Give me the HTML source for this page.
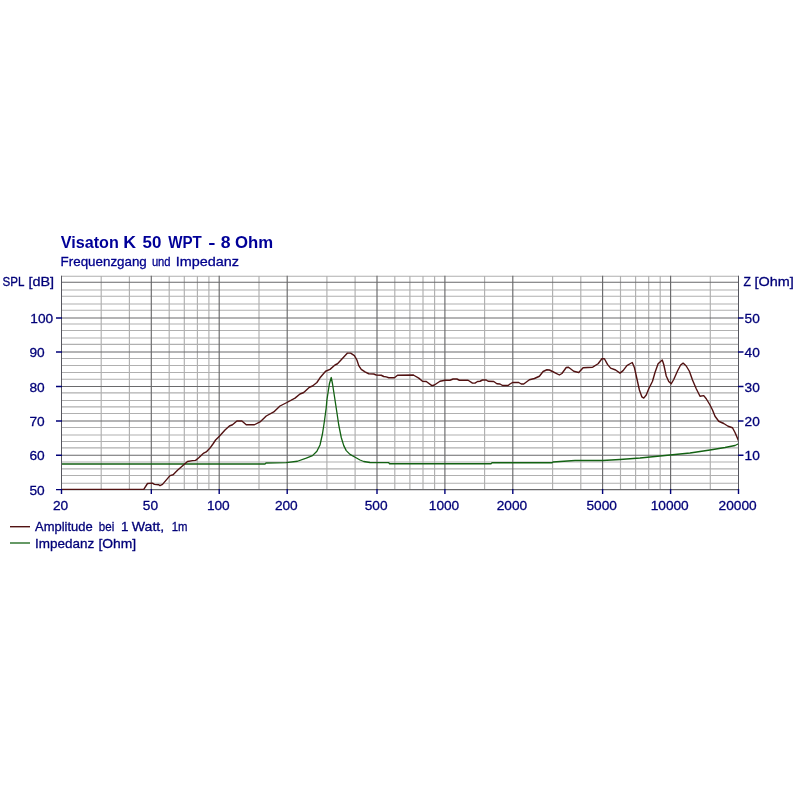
<!DOCTYPE html>
<html><head><meta charset="utf-8"><title>Visaton K 50 WPT - 8 Ohm</title>
<style>html,body{margin:0;padding:0;background:#fff}svg{display:block}text{font-family:"Liberation Sans",Arial,sans-serif}</style></head><body>
<svg width="800" height="800" viewBox="0 0 800 800">
<rect width="800" height="800" fill="#ffffff"/>
<path d="M61.5 276.2H738.5M61.5 290.0H738.5M61.5 296.2H738.5M61.5 304.0H738.5M61.5 310.2H738.5M61.5 324.0H738.5M61.5 330.5H738.5M61.5 338.0H738.5M61.5 344.4H738.5M61.5 358.5H738.5M61.5 365.5H738.5M61.5 372.5H738.5M61.5 379.2H738.5M61.5 392.8H738.5M61.5 400.5H738.5M61.5 406.8H738.5M61.5 413.5H738.5M61.5 427.5H738.5M61.5 435.0H738.5M61.5 441.5H738.5M61.5 447.8H738.5M61.5 462.0H738.5M61.5 468.8H738.5M61.5 475.5H738.5M61.5 483.2H738.5M101.2 275.7V489.6M129.4 275.7V489.6M169.2 275.7V489.6M184.3 275.7V489.6M197.4 275.7V489.6M208.9 275.7V489.6M259.0 275.7V489.6M326.9 275.7V489.6M355.1 275.7V489.6M394.8 275.7V489.6M409.9 275.7V489.6M423.0 275.7V489.6M434.6 275.7V489.6M484.6 275.7V489.6M552.6 275.7V489.6M580.8 275.7V489.6M620.5 275.7V489.6M635.6 275.7V489.6M648.7 275.7V489.6M660.2 275.7V489.6M710.3 275.7V489.6" stroke="#b0b0b0" stroke-width="1.15" fill="none"/>
<path d="M61.5 282.2H738.5M61.5 318.0H738.5M61.5 352.0H738.5M61.5 386.5H738.5M61.5 421.0H738.5M61.5 455.2H738.5M61.5 489.6H738.5M151.3 275.7V489.6M219.2 275.7V489.6M287.2 275.7V489.6M377.0 275.7V489.6M444.9 275.7V489.6M512.8 275.7V489.6M602.6 275.7V489.6M670.6 275.7V489.6" stroke="#6a6a6c" stroke-width="1.15" fill="none"/>
<polyline points="61.50,464.00 265.00,464.00 266.00,463.00 286.25,462.70 297.50,461.25 306.25,458.10 312.50,455.60 316.90,451.25 320.00,445.00 322.50,433.75 324.40,421.25 326.25,407.50 326.90,400.00 329.40,383.75 331.25,377.50 332.50,383.75 335.00,400.00 336.90,412.50 338.75,425.00 341.25,437.50 343.75,445.60 346.25,450.60 350.00,454.40 355.60,457.50 360.00,460.00 363.75,461.50 370.00,462.50 388.75,462.70 389.50,463.75 491.00,463.75 492.00,462.75 552.00,462.75 553.00,462.00 575.00,460.50 602.50,460.50 620.00,459.50 640.00,458.00 657.50,456.25 670.00,455.00 690.00,453.00 710.00,450.00 725.00,447.50 735.00,445.50 738.50,443.75" fill="none" stroke="#136213" stroke-width="1.3" stroke-linejoin="round"/>
<polyline points="61.50,489.40 142.50,489.40 143.75,489.40 147.50,483.50 152.50,483.10 154.40,484.40 158.75,484.75 160.00,485.60 162.50,484.40 170.00,475.60 173.10,474.75 177.50,470.25 183.75,464.75 187.50,461.50 192.50,460.60 195.60,460.40 198.75,457.75 203.75,453.10 206.25,451.90 210.00,448.10 213.10,443.75 215.60,440.00 219.40,436.25 225.00,430.00 229.40,426.00 232.50,424.75 236.90,421.00 241.90,421.00 246.25,424.75 254.40,424.75 260.00,421.90 266.25,416.00 273.75,411.90 280.00,406.00 286.90,402.50 295.00,398.10 300.00,394.00 303.75,392.50 309.40,387.25 312.50,386.00 316.90,382.50 320.00,377.80 325.60,371.25 330.00,369.40 335.00,365.00 337.50,363.75 347.50,353.10 350.60,353.10 354.40,355.60 356.90,360.00 358.75,365.60 361.25,369.40 365.00,371.90 368.75,373.75 373.75,374.00 376.25,375.00 381.25,375.25 383.75,376.50 386.25,376.90 388.75,377.75 394.40,377.75 397.50,375.25 413.10,375.00 413.75,375.25 418.75,378.10 422.50,381.25 426.25,381.50 431.90,385.60 434.40,385.00 440.00,381.25 445.00,380.25 450.00,380.25 453.10,379.00 456.90,379.00 459.40,380.25 468.10,380.25 472.50,383.10 475.00,383.10 477.50,381.50 480.00,381.25 482.50,380.00 486.25,380.00 488.10,381.25 493.75,381.50 496.90,383.75 500.00,384.00 502.50,385.50 508.10,385.50 510.00,384.00 512.50,382.50 518.75,382.50 521.25,384.00 523.75,384.00 529.40,379.75 534.40,378.50 539.40,376.25 543.10,371.50 546.90,369.75 549.40,370.00 552.50,371.50 559.40,375.00 561.90,373.50 566.25,367.50 568.50,367.25 573.75,371.25 578.75,372.50 583.10,367.75 592.50,367.25 593.10,366.90 598.10,363.75 601.90,358.75 604.40,358.75 607.50,364.40 610.60,368.10 615.60,370.00 620.00,373.10 623.10,370.60 626.90,365.60 630.00,363.75 632.25,362.50 634.40,367.50 636.90,378.75 639.40,390.00 641.90,396.90 643.75,398.10 646.25,395.00 648.75,388.75 652.50,381.25 655.00,372.50 658.10,363.75 662.25,360.00 663.75,364.50 666.25,376.00 668.75,381.50 671.25,383.75 673.75,379.50 677.50,371.00 680.60,365.00 683.10,363.10 686.25,366.00 689.40,371.25 692.50,380.00 696.25,388.75 700.00,396.25 703.75,395.60 706.25,398.75 710.00,405.00 712.50,410.00 715.00,416.25 718.75,421.25 723.75,423.50 728.10,426.25 732.50,427.75 735.00,432.50 738.50,440.60" fill="none" stroke="#521212" stroke-width="1.4" stroke-linejoin="round"/>
<path d="M61.5 275.7V490.1M738.5 275.7V490.1" stroke="#56565f" stroke-width="1" fill="none"/>
<path d="M56.0 489.6H62.0M56.0 455.2H62.0M738.0 455.2H743.5M56.0 421.0H62.0M738.0 421.0H743.5M56.0 386.5H62.0M738.0 386.5H743.5M56.0 352.0H62.0M738.0 352.0H743.5M56.0 318.0H62.0M738.0 318.0H743.5M61.5 489.1V494.1M151.3 489.1V494.1M219.2 489.1V494.1M287.2 489.1V494.1M377.0 489.1V494.1M444.9 489.1V494.1M512.8 489.1V494.1M602.6 489.1V494.1M670.6 489.1V494.1M738.5 489.1V494.1" stroke="#000078" stroke-width="1.4" fill="none"/>
<g font-size="16" font-weight="bold" fill="#000098">
<text y="248.3"><tspan x="60.8" textLength="58.0" lengthAdjust="spacingAndGlyphs">Visaton</tspan> <tspan x="123.2" textLength="12.8" lengthAdjust="spacingAndGlyphs">K</tspan> <tspan x="142.5" textLength="18.8" lengthAdjust="spacingAndGlyphs">50</tspan> <tspan x="168.2" textLength="33.5" lengthAdjust="spacingAndGlyphs">WPT</tspan> <tspan x="208.2" textLength="7.2" lengthAdjust="spacingAndGlyphs">-</tspan> <tspan x="220.8" textLength="9.8" lengthAdjust="spacingAndGlyphs">8</tspan> <tspan x="235.0" textLength="38.1" lengthAdjust="spacingAndGlyphs">Ohm</tspan></text>
</g>
<g font-size="13.4" fill="#00008c" stroke="#00008c" stroke-width="0.3">
<text y="265.6"><tspan x="60.6" textLength="86.2" lengthAdjust="spacingAndGlyphs">Frequenzgang</tspan> <tspan x="151.9" textLength="18.7" lengthAdjust="spacingAndGlyphs">und</tspan> <tspan x="175.7" textLength="63.2" lengthAdjust="spacingAndGlyphs">Impedanz</tspan></text>
</g>
<g font-size="13.4" fill="#000078" stroke="#000078" stroke-width="0.3">
<text y="286.3"><tspan x="2.6" textLength="21.5" lengthAdjust="spacingAndGlyphs">SPL</tspan> <tspan x="28.4" textLength="25.6" lengthAdjust="spacingAndGlyphs">[dB]</tspan></text>
<text y="286.3"><tspan x="743.6" textLength="7.4" lengthAdjust="spacingAndGlyphs">Z</tspan> <tspan x="754.6" textLength="39.2" lengthAdjust="spacingAndGlyphs">[Ohm]</tspan></text>
<text x="29.4" y="494.6" font-size="13.7">50</text>
<text x="29.4" y="460.2" font-size="13.7">60</text>
<text x="744.6" y="460.2" font-size="13.7">10</text>
<text x="29.4" y="426.0" font-size="13.7">70</text>
<text x="744.6" y="426.0" font-size="13.7">20</text>
<text x="29.4" y="391.5" font-size="13.7">80</text>
<text x="744.6" y="391.5" font-size="13.7">30</text>
<text x="29.4" y="357.0" font-size="13.7">90</text>
<text x="744.6" y="357.0" font-size="13.7">40</text>
<text x="30.3" y="323.0" font-size="13.7">100</text>
<text x="744.6" y="323.0" font-size="13.7">50</text>
<text x="60.6" y="510.4" font-size="13.7" text-anchor="middle">20</text>
<text x="150.4" y="510.4" font-size="13.7" text-anchor="middle">50</text>
<text x="218.3" y="510.4" font-size="13.7" text-anchor="middle">100</text>
<text x="286.3" y="510.4" font-size="13.7" text-anchor="middle">200</text>
<text x="376.1" y="510.4" font-size="13.7" text-anchor="middle">500</text>
<text x="444.0" y="510.4" font-size="13.7" text-anchor="middle">1000</text>
<text x="511.9" y="510.4" font-size="13.7" text-anchor="middle">2000</text>
<text x="601.7" y="510.4" font-size="13.7" text-anchor="middle">5000</text>
<text x="669.7" y="510.4" font-size="13.7" text-anchor="middle">10000</text>
<text x="737.6" y="510.4" font-size="13.7" text-anchor="middle">20000</text>
<text y="531.2"><tspan x="35.0" textLength="57.6" lengthAdjust="spacingAndGlyphs">Amplitude</tspan> <tspan x="98.8" textLength="15.4" lengthAdjust="spacingAndGlyphs">bei</tspan> <tspan x="120.9">1</tspan> <tspan x="131.8" textLength="32.4" lengthAdjust="spacingAndGlyphs">Watt,</tspan> <tspan x="171.8" textLength="15.8" lengthAdjust="spacingAndGlyphs">1m</tspan></text>
<text y="547.5"><tspan x="35.0" textLength="59.2" lengthAdjust="spacingAndGlyphs">Impedanz</tspan> <tspan x="98.4" textLength="37.8" lengthAdjust="spacingAndGlyphs">[Ohm]</tspan></text>
</g>
<path d="M10 526.7H30" stroke="#521212" stroke-width="1.4"/>
<path d="M10 543H30" stroke="#136213" stroke-width="1.3"/>
</svg></body></html>
